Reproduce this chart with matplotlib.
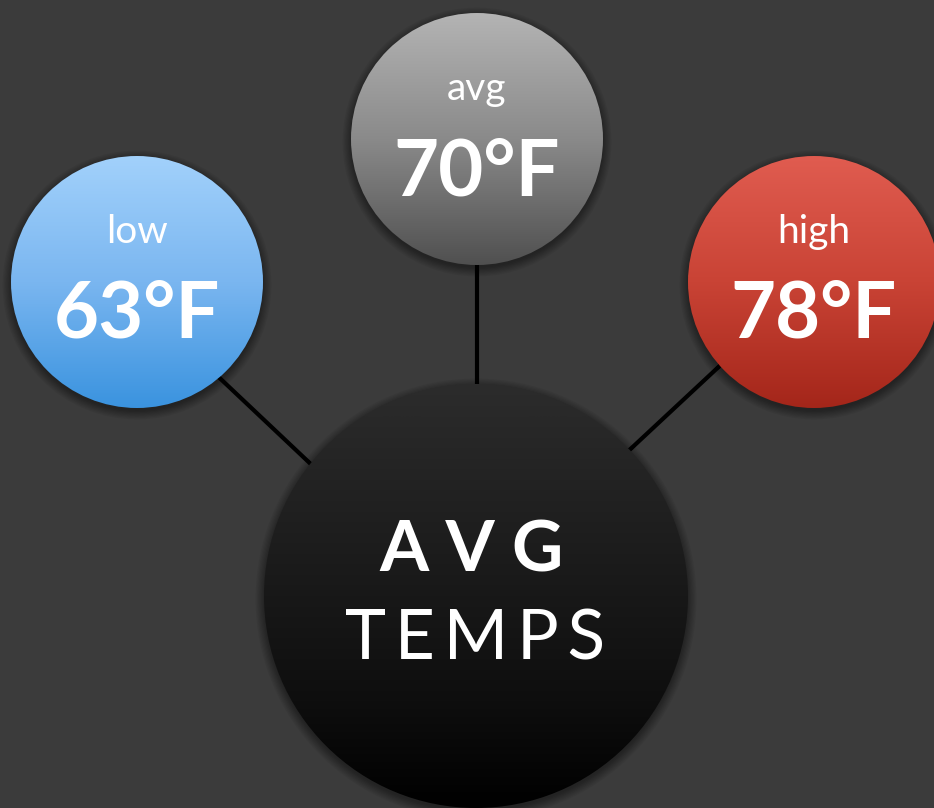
import numpy as np
import matplotlib.pyplot as plt
from matplotlib.patches import Circle
from matplotlib.colors import LinearSegmentedColormap

# data
labels = ['low', 'avg', 'high']
values = [63, 70, 78]
unit = '°F'
title_top = 'AVG'
title_bottom = 'TEMPS'

# layout (pixels, y down)
W, H = 934, 808
centers = [(137, 282), (477, 139), (814, 282)]
small_r = 126
hub = (476, 596)
hub_r = 212
bg = '#3b3b3b'
grads = [['#a2d1fb', '#7ab6f0', '#3a93df'],
         ['#b4b4b4', '#8a8a8a', '#505050'],
         ['#e05c50', '#c94335', '#a4261a']]
hub_grad = ['#2c2c2c', '#222222', '#181818', '#0e0e0e', '#000000']

plt.rcParams['font.family'] = ['Lato', 'DejaVu Sans']

fig = plt.figure(figsize=(W / 100, H / 100), dpi=100)
fig.patch.set_facecolor(bg)
ax = fig.add_axes([0, 0, 1, 1])
ax.set_facecolor(bg)
ax.axis('off')


def gradient_circle(cx, cy, r, colors, z):
    # soft drop shadow
    for k in range(8):
        ax.add_patch(Circle((cx, cy + 3), r + 1.2 * k, facecolor='black',
                            edgecolor='none', alpha=0.05, zorder=z - 0.5))
    cmap = LinearSegmentedColormap.from_list('g', colors)
    grad = np.linspace(0, 1, 256).reshape(-1, 1)
    im = ax.imshow(grad, cmap=cmap, extent=(cx - r, cx + r, cy + r, cy - r),
                   aspect='auto', zorder=z, interpolation='bilinear')
    clip = Circle((cx, cy), r, transform=ax.transData, facecolor='none',
                  edgecolor='none')
    ax.add_patch(clip)
    im.set_clip_path(clip)


# connectors
ax.plot([137, hub[0]], [300, 620], color='black', lw=3, zorder=1,
        solid_capstyle='butt')
ax.plot([477, 477], [139, hub[1]], color='black', lw=3, zorder=1,
        solid_capstyle='butt')
ax.plot([814, hub[0]], [278, 593], color='black', lw=3, zorder=1,
        solid_capstyle='butt')

for (cx, cy), lab, val, g in zip(centers, labels, values, grads):
    gradient_circle(cx, cy, small_r, g, 3)
    ax.text(cx, cy - 39, lab, ha='center', va='baseline', color='white',
            fontsize=28, fontweight='normal', zorder=5)
    ax.text(cx, cy + 56, f'{val}{unit}', ha='center', va='baseline',
            color='white', fontsize=56, fontweight='bold', zorder=5)

gradient_circle(hub[0], hub[1], hub_r, hub_grad, 3)
ax.text(472, 572, ' '.join(title_top), ha='center', va='baseline',
        color='white', fontsize=51, fontweight='bold', zorder=5)
ax.text(475, 660, '\u2009'.join(title_bottom), ha='center', va='baseline',
        color='white', fontsize=50, fontweight='normal', zorder=5)

ax.set_xlim(0, W)
ax.set_ylim(H, 0)
fig.savefig('out.png', dpi=100, facecolor=bg)
